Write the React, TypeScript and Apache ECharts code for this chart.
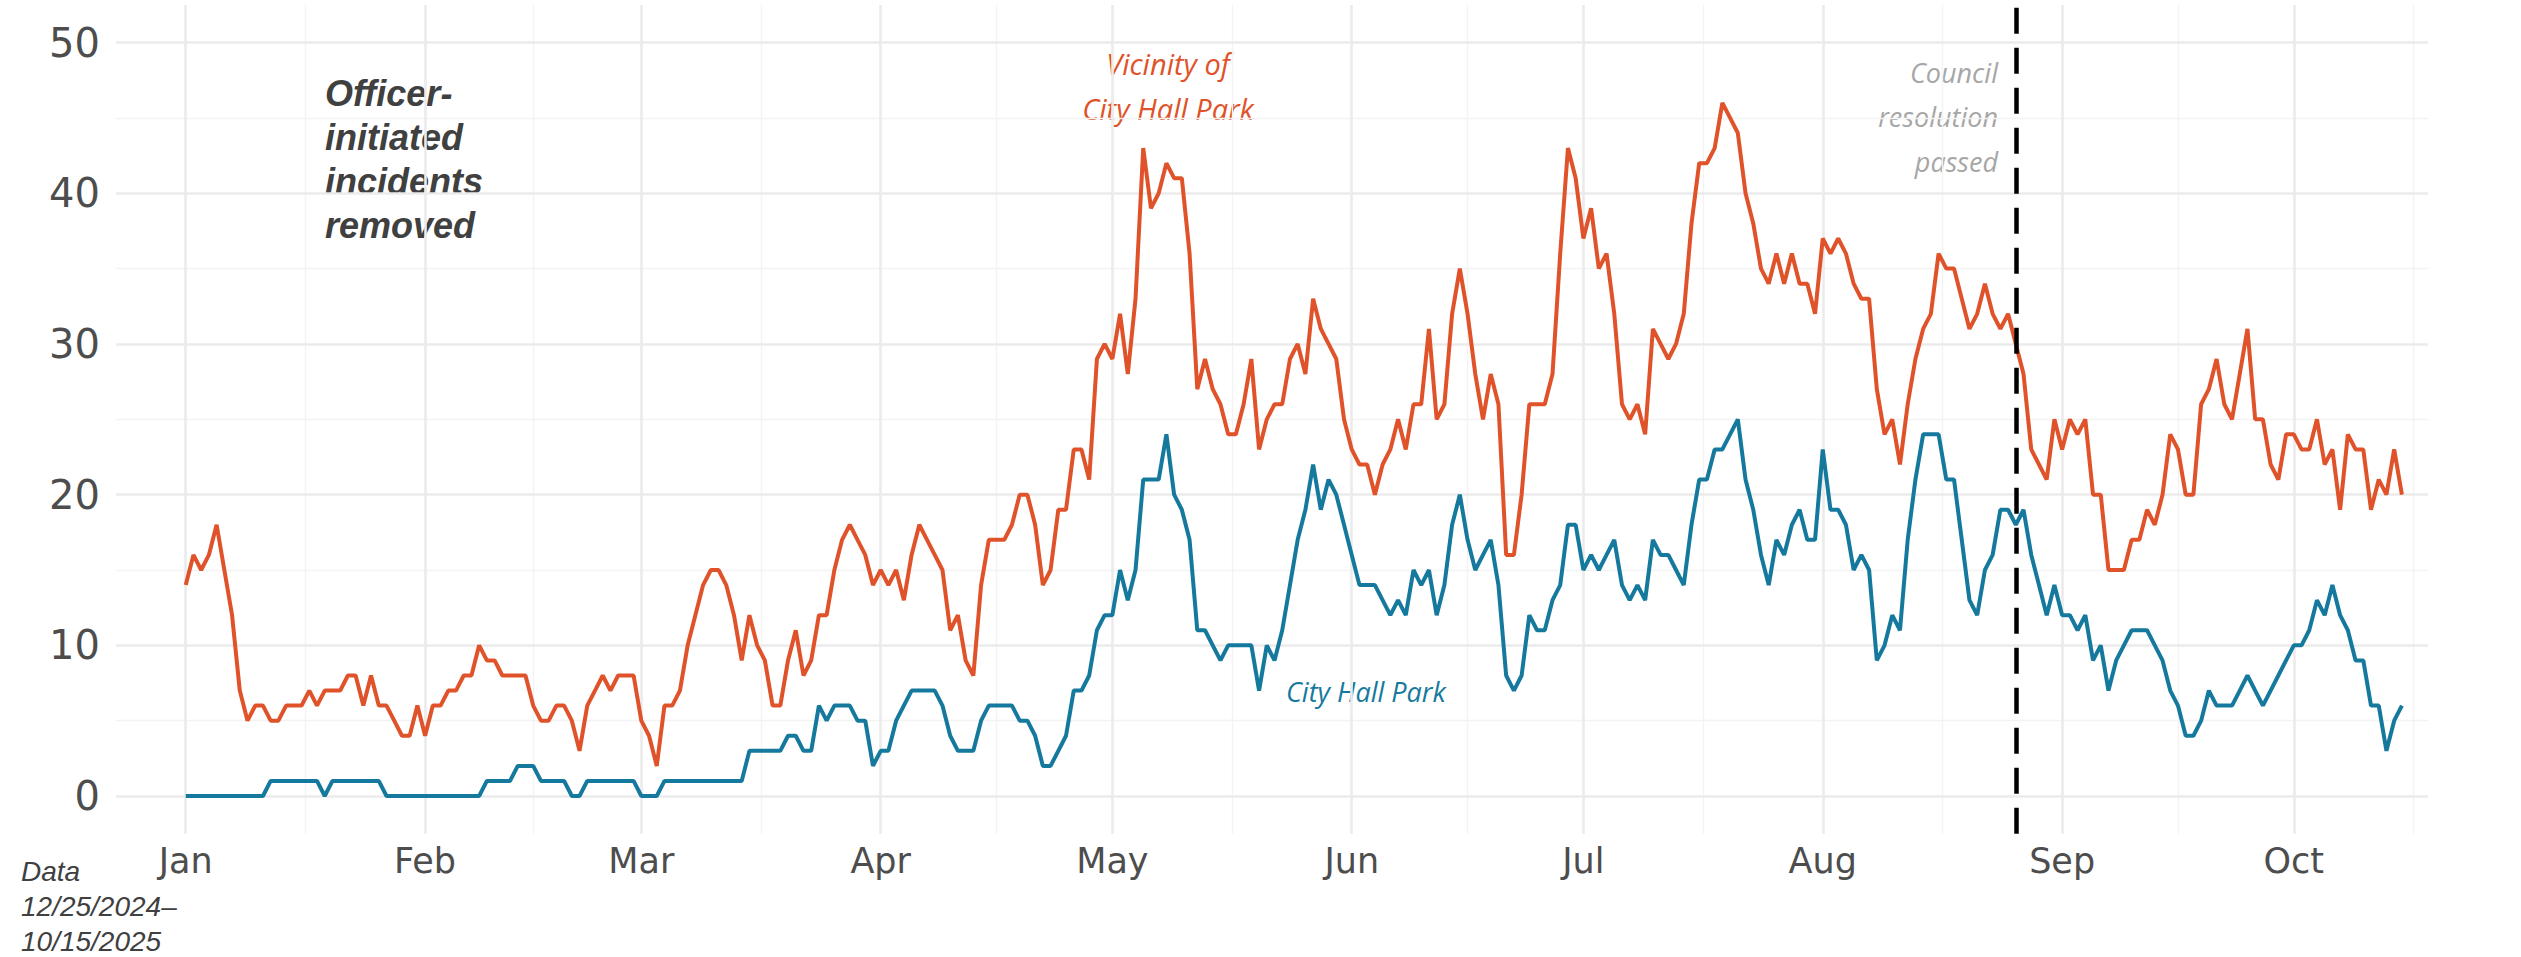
import React, { useEffect, useRef } from "react";
import * as echarts from "echarts";

// Daily counts, day 0 = Jan 1 2025, last = Oct 15 2025
const vicinity = [
  14, 16, 15, 16, 18, 15, 12, 7, 5, 6, 6, 5, 5, 6, 6, 6, 7, 6, 7, 7, 7, 8, 8, 6, 8, 6, 6, 5, 4, 4,
  6, 4, 6, 6, 7, 7, 8, 8, 10, 9, 9, 8, 8, 8, 8, 6, 5, 5, 6, 6, 5, 3, 6, 7, 8, 7, 8, 8, 8, 5,
  4, 2, 6, 6, 7, 10, 12, 14, 15, 15, 14, 12, 9, 12, 10, 9, 6, 6, 9, 11, 8, 9, 12, 12, 15, 17, 18, 17, 16, 14,
  15, 14, 15, 13, 16, 18, 17, 16, 15, 11, 12, 9, 8, 14, 17, 17, 17, 18, 20, 20, 18, 14, 15, 19, 19, 23, 23, 21, 29, 30,
  29, 32, 28, 33, 43, 39, 40, 42, 41, 41, 36, 27, 29, 27, 26, 24, 24, 26, 29, 23, 25, 26, 26, 29, 30, 28, 33, 31, 30, 29,
  25, 23, 22, 22, 20, 22, 23, 25, 23, 26, 26, 31, 25, 26, 32, 35, 32, 28, 25, 28, 26, 16, 16, 20, 26, 26, 26, 28, 36, 43,
  41, 37, 39, 35, 36, 32, 26, 25, 26, 24, 31, 30, 29, 30, 32, 38, 42, 42, 43, 46, 45, 44, 40, 38, 35, 34, 36, 34, 36, 34,
  34, 32, 37, 36, 37, 36, 34, 33, 33, 27, 24, 25, 22, 26, 29, 31, 32, 36, 35, 35, 33, 31, 32, 34, 32, 31, 32, 30, 28, 23,
  22, 21, 25, 23, 25, 24, 25, 20, 20, 15, 15, 15, 17, 17, 19, 18, 20, 24, 23, 20, 20, 26, 27, 29, 26, 25, 28, 31, 25, 25,
  22, 21, 24, 24, 23, 23, 25, 22, 23, 19, 24, 23, 23, 19, 21, 20, 23, 20,
];

const cityHallPark = [
  0, 0, 0, 0, 0, 0, 0, 0, 0, 0, 0, 1, 1, 1, 1, 1, 1, 1, 0, 1, 1, 1, 1, 1, 1, 1, 0, 0, 0, 0,
  0, 0, 0, 0, 0, 0, 0, 0, 0, 1, 1, 1, 1, 2, 2, 2, 1, 1, 1, 1, 0, 0, 1, 1, 1, 1, 1, 1, 1, 0,
  0, 0, 1, 1, 1, 1, 1, 1, 1, 1, 1, 1, 1, 3, 3, 3, 3, 3, 4, 4, 3, 3, 6, 5, 6, 6, 6, 5, 5, 2,
  3, 3, 5, 6, 7, 7, 7, 7, 6, 4, 3, 3, 3, 5, 6, 6, 6, 6, 5, 5, 4, 2, 2, 3, 4, 7, 7, 8, 11, 12,
  12, 15, 13, 15, 21, 21, 21, 24, 20, 19, 17, 11, 11, 10, 9, 10, 10, 10, 10, 7, 10, 9, 11, 14, 17, 19, 22, 19, 21, 20,
  18, 16, 14, 14, 14, 13, 12, 13, 12, 15, 14, 15, 12, 14, 18, 20, 17, 15, 16, 17, 14, 8, 7, 8, 12, 11, 11, 13, 14, 18,
  18, 15, 16, 15, 16, 17, 14, 13, 14, 13, 17, 16, 16, 15, 14, 18, 21, 21, 23, 23, 24, 25, 21, 19, 16, 14, 17, 16, 18, 19,
  17, 17, 23, 19, 19, 18, 15, 16, 15, 9, 10, 12, 11, 17, 21, 24, 24, 24, 21, 21, 17, 13, 12, 15, 16, 19, 19, 18, 19, 16,
  14, 12, 14, 12, 12, 11, 12, 9, 10, 7, 9, 10, 11, 11, 11, 10, 9, 7, 6, 4, 4, 5, 7, 6, 6, 6, 7, 8, 7, 6,
  7, 8, 9, 10, 10, 11, 13, 12, 14, 12, 11, 9, 9, 6, 6, 3, 5, 6,
];

// x ticks as day offsets from Jan 1 2025
const monthTicks = [0, 31, 59, 90, 120, 151, 181, 212, 243, 273];
const monthEnd = 304; // Nov 1
const monthLabels = ["Jan", "Feb", "Mar", "Apr", "May", "Jun", "Jul", "Aug", "Sep", "Oct"];
const yMajor = [0, 10, 20, 30, 40, 50];
const yMinor = [5, 15, 25, 35, 45];
const resolutionDay = 237; // Aug 26

export default function App() {
  const ref = useRef<HTMLDivElement>(null);

  useEffect(() => {
    const chart = echarts.init(ref.current!, null, { renderer: "svg" });
    const xMinor = monthTicks.map((m, i) => (m + (i + 1 < monthTicks.length ? monthTicks[i + 1] : monthEnd)) / 2);
    const majorStyle = { color: "#ebebeb", width: 2.6, type: "solid" as const };
    const minorStyle = { color: "#f3f3f3", width: 1.4, type: "solid" as const };
    const labelFont = '"DejaVu Sans", sans-serif';

    chart.setOption({
      animation: false,
      backgroundColor: "#ffffff",
      grid: { left: 116, width: 2312, top: 4.9, bottom: 123.3, containLabel: false },
      xAxis: {
        type: "value",
        min: -9.03,
        max: 290.38,
        axisLine: { show: false },
        axisTick: { show: false },
        splitLine: { show: false },
        axisLabel: {
          customValues: monthTicks,
          formatter: (v: number) => monthLabels[monthTicks.indexOf(Math.round(v))] ?? "",
          color: "#4d4d4d",
          fontSize: 35,
          fontFamily: labelFont,
          margin: 10,
        },
      },
      yAxis: {
        type: "value",
        min: -2.5,
        max: 52.5,
        axisLine: { show: false },
        axisTick: { show: false },
        splitLine: { show: false },
        axisLabel: {
          customValues: yMajor,
          color: "#4d4d4d",
          fontSize: 40,
          fontFamily: labelFont,
          margin: 16,
        },
      },
      series: [
        {
          type: "line",
          data: [],
          silent: true,
          z: 0,
          markLine: {
            z: 0,
            silent: true,
            symbol: "none",
            label: { show: false },
            animation: false,
            data: [
              ...yMinor.map((v) => ({ yAxis: v, lineStyle: minorStyle })),
              ...xMinor.map((v) => ({ xAxis: v, lineStyle: minorStyle })),
              ...yMajor.map((v) => ({ yAxis: v, lineStyle: majorStyle })),
              ...monthTicks.map((v) => ({ xAxis: v, lineStyle: majorStyle })),
            ],
          },
        },
        {
          name: "Vicinity of City Hall Park",
          type: "line",
          z: 3,
          showSymbol: false,
          symbol: "none",
          data: vicinity.map((v, i) => [i, v]),
          lineStyle: { color: "#e0532a", width: 4 },
          itemStyle: { color: "#e0532a" },
        },
        {
          name: "City Hall Park",
          type: "line",
          z: 4,
          showSymbol: false,
          symbol: "none",
          data: cityHallPark.map((v, i) => [i, v]),
          lineStyle: { color: "#15799e", width: 4 },
          itemStyle: { color: "#15799e" },
        },
        {
          type: "line",
          data: [],
          silent: true,
          z: 10,
          markLine: {
            z: 10,
            silent: true,
            symbol: "none",
            label: { show: false },
            animation: false,
            data: [{ xAxis: resolutionDay }],
            lineStyle: { color: "#000000", width: 4.5, type: [26, 14] },
          },
        },
      ],
      graphic: [
        {
          type: "text",
          x: 325,
          y: 71,
          style: {
            text: "Officer-\ninitiated\nincidents\nremoved",
            font: 'italic bold 36px "Liberation Sans", Arial, sans-serif',
            fill: "#404040",
            lineHeight: 44,
            verticalAlign: "top",
          },
        },
        {
          type: "text",
          x: 1168,
          y: 41,
          style: {
            text: "Vicinity of\nCity Hall Park",
            font: 'italic 29px "Open Sans", sans-serif',
            fill: "#e0532a",
            lineHeight: 45,
            align: "center",
            verticalAlign: "top",
          },
        },
        {
          type: "text",
          x: 1998,
          y: 50,
          style: {
            text: "Council\nresolution\npassed",
            font: 'italic 27px "Open Sans", sans-serif',
            fill: "#a6a6a6",
            lineHeight: 44.5,
            align: "right",
            verticalAlign: "top",
          },
        },
        {
          type: "text",
          x: 1286,
          y: 691,
          style: {
            text: "City Hall Park",
            font: 'italic 27px "Open Sans", sans-serif',
            fill: "#15799e",
            align: "left",
            verticalAlign: "middle",
          },
        },
        {
          type: "text",
          x: 21,
          y: 854,
          style: {
            text: "Data\n12/25/2024\u2013\n10/15/2025",
            font: 'italic 28px "Liberation Sans", Arial, sans-serif',
            fill: "#404040",
            lineHeight: 35,
            verticalAlign: "top",
          },
        },
      ],
    });

    return () => chart.dispose();
  }, []);

  return (
    <div
      ref={ref}
      style={{ position: "fixed", left: 0, top: 0, width: 2521, height: 957, background: "#fff" }}
    />
  );
}
